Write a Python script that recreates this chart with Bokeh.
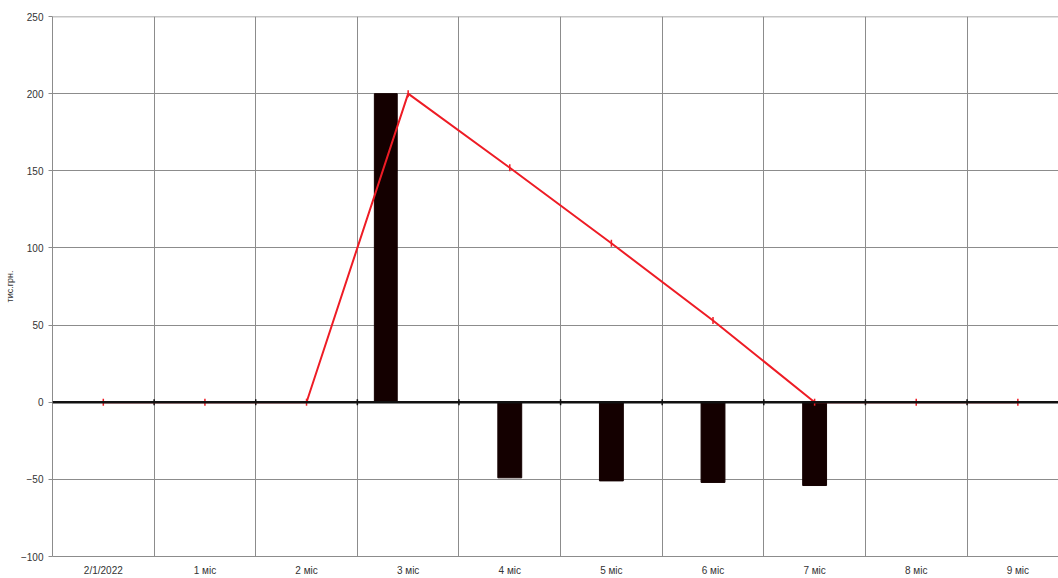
import numpy as np
from bokeh.plotting import figure
from bokeh.models import Range1d, FixedTicker, Span
from bokeh.transform import dodge
from bokeh.embed import file_html
from bokeh.resources import INLINE

# Periods on the horizontal axis
periods = ["2/1/2022", "1 міс", "2 міс", "3 міс", "4 міс",
           "5 міс", "6 міс", "7 міс", "8 міс", "9 міс"]
# Investment outlay (thousand UAH)
investment = [0, 0, 0, 200, 0, 0, 0, 0, 0, 0]
# Monthly returns (thousand UAH, drawn below zero)
returns = [0, 0, 0, 0, -49, -51, -52, -54, 0, 0]
# Outstanding balance line (thousand UAH)
balance = [0, 0, 0, 200, 152, 103, 53, 0, 0, 0]
y_ticks = [-100, -50, 0, 50, 100, 150, 200, 250]

FONT = "Liberation Sans"
GRID = "#8c8c8c"

centers = np.arange(len(periods)) + 0.5
bounds = np.arange(len(periods) + 1)

p = figure(width=1058, height=578, output_backend="svg", toolbar_location=None,
           x_range=Range1d(0, 9.9), y_range=Range1d(-100, 250),
           min_border_left=52, min_border_right=0, min_border_top=16,
           min_border_bottom=21)
p.outline_line_color = None
p.background_fill_color = "white"
p.border_fill_color = "white"

# axes
p.xaxis.ticker = FixedTicker(ticks=list(centers))
p.xaxis.major_label_overrides = {float(c): lab for c, lab in zip(centers, periods)}
p.xaxis.major_tick_line_color = None
p.xaxis.major_tick_in = 0
p.xaxis.major_tick_out = 0
p.xaxis.minor_tick_line_color = None
p.xaxis.axis_line_color = GRID
p.xaxis.major_label_standoff = 8
p.xaxis.major_label_text_font = FONT
p.xaxis.major_label_text_font_size = "10px"
p.xaxis.major_label_text_color = "#333333"

p.yaxis.ticker = FixedTicker(ticks=y_ticks)
p.yaxis.axis_line_color = GRID
p.yaxis.major_tick_line_color = GRID
p.yaxis.major_tick_in = 0
p.yaxis.major_tick_out = 4
p.yaxis.minor_tick_line_color = None
p.yaxis.major_label_standoff = 5
p.yaxis.major_label_text_font = FONT
p.yaxis.major_label_text_font_size = "10px"
p.yaxis.major_label_text_color = "#333333"
p.yaxis.axis_label = "тис.грн."
p.yaxis.axis_label_text_font = FONT
p.yaxis.axis_label_text_font_size = "9px"
p.yaxis.axis_label_text_font_style = "normal"
p.yaxis.axis_label_text_color = "#333333"
p.yaxis.axis_label_standoff = 3

# grid: horizontal at value ticks, vertical at period boundaries
p.ygrid.grid_line_color = GRID
p.ygrid.grid_line_width = 1
p.xgrid.ticker = FixedTicker(ticks=list(bounds[1:-1]))
p.xgrid.grid_line_color = GRID
p.xgrid.grid_line_width = 1
p.add_layout(Span(location=250, dimension="width", line_color=GRID, line_width=1.5))

# bars
src = dict(x=list(centers), investment=investment, returns=returns)
p.vbar(x=dodge("x", -0.22, range=p.x_range), top="investment", bottom=0,
       width=0.225, source=src, fill_color="#140000", line_color="#140000")
p.vbar(x="x", top="returns", bottom=0, width=0.235, source=src,
       fill_color="#140000", line_color="#140000")

# zero axis with small tick marks at period boundaries
p.add_layout(Span(location=0, dimension="width", line_color="#111111", line_width=2.5))
p.scatter(x=list(bounds[1:-1]), y=[0] * (len(bounds) - 2), marker="dash",
          angle=np.pi / 2, size=6, line_color="#111111", line_width=1.5)

# balance line
p.line(x=list(centers), y=balance, line_color="#ee1c25", line_width=2)
p.scatter(x=list(centers), y=balance, marker="dash", angle=np.pi / 2,
          size=7, line_color="#ee1c25", line_width=1.5)

open("out.html", "w").write(file_html(p, INLINE))
